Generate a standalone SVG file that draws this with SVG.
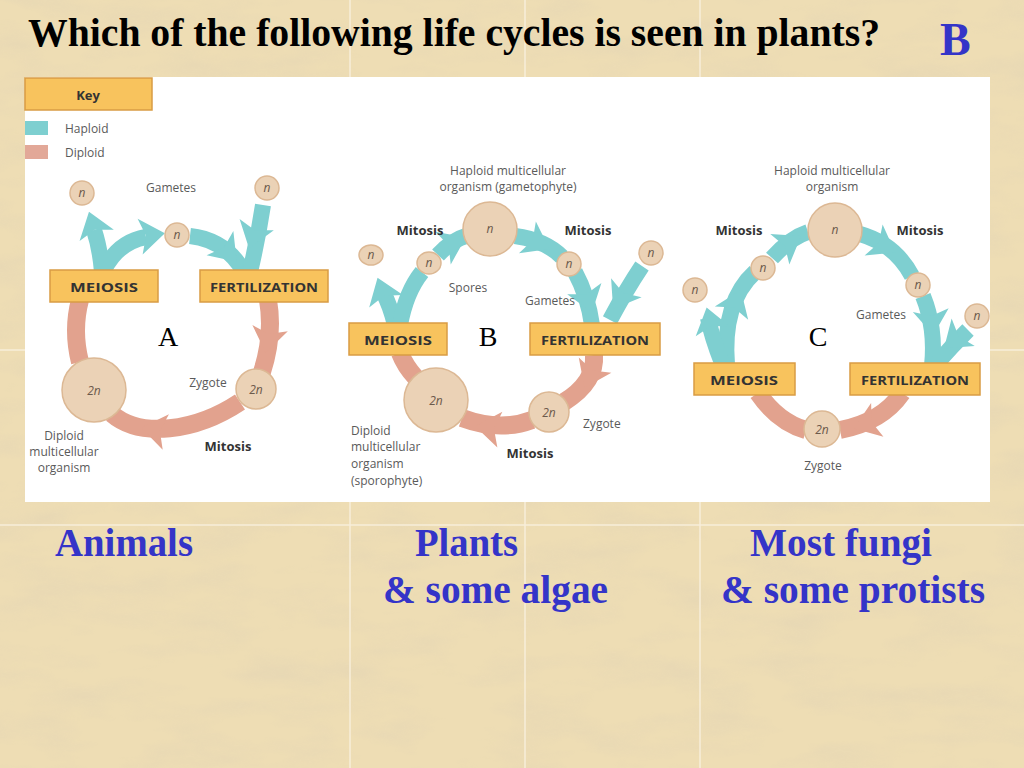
<svg xmlns="http://www.w3.org/2000/svg" xmlns:xlink="http://www.w3.org/1999/xlink" width="1024" height="768" viewBox="0 0 1024 768">
<defs>
<filter id="paper" x="0" y="0" width="100%" height="100%">
<feTurbulence type="fractalNoise" baseFrequency="0.012 0.035" numOctaves="4" seed="7"/>
<feColorMatrix type="matrix" values="0 0 0 0 0.78  0 0 0 0 0.67  0 0 0 0 0.46  0 0 0 1.8 -0.75"/>
</filter>
<path id="headT" d="M-12,-18 L13,0 L-12,18 L-6,0 Z" fill="#7ECFD0"/>
<path id="headP" d="M-12,-18 L13,0 L-12,18 L-6,0 Z" fill="#E2A28E"/>
<style>
.title{font-family:"Liberation Serif","Times New Roman",serif;font-weight:bold;}
.blue{fill:#3434C8;}
.lbl{font-family:"Open Sans","Liberation Sans",sans-serif;font-size:12px;fill:#5a5a5a;}
.bold{font-family:"Open Sans","Liberation Sans",sans-serif;font-size:13px;font-weight:bold;fill:#333;}
.box{fill:#F8C35D;stroke:#D99C44;stroke-width:1.5;}
.cell{fill:#EBD2B6;stroke:#DCB894;stroke-width:1.5;}
.n{font-family:"Open Sans","Liberation Sans",sans-serif;font-style:italic;font-size:12px;fill:#6b5a4c;text-anchor:middle;}
.tb{fill:none;stroke:#7ECFD0;stroke-width:16;}
.pb{fill:none;stroke:#E2A28E;stroke-width:18;}
.hl{fill:none;stroke:#FFFFFF;stroke-width:1;opacity:0.8;}
.abc{font-family:"Liberation Serif","Times New Roman",serif;font-size:28px;fill:#000;text-anchor:middle;}
.mid{text-anchor:middle;}
</style>
</defs>

<g id="background">
<rect x="0" y="0" width="1024" height="768" fill="#EEDDB4"/>
<rect x="0" y="0" width="1024" height="768" filter="url(#paper)" opacity="0.75"/>
<g stroke="#F7EEDA" stroke-width="1.5">
<line x1="350" y1="0" x2="350" y2="768"/>
<line x1="525" y1="0" x2="525" y2="768"/>
<line x1="700" y1="0" x2="700" y2="768"/>
<line x1="0" y1="350" x2="1024" y2="350"/>
<line x1="0" y1="525" x2="1024" y2="525"/>
</g>
<rect x="25" y="77" width="965" height="425" fill="#FFFFFF"/>
</g>

<g id="title">
<text class="title" x="28" y="46" font-size="40" textLength="852" lengthAdjust="spacingAndGlyphs" fill="#000">Which of the following life cycles is seen in plants?</text>
<text class="title blue" x="940" y="55" font-size="46">B</text>
</g>

<g id="key">
<rect class="box" x="25" y="78" width="127" height="32"/>
<text class="bold mid" x="88" y="100" font-size="15">Key</text>
<rect x="25" y="121" width="23" height="14" fill="#7ECFD0"/>
<text class="lbl" x="65" y="133" font-size="13">Haploid</text>
<rect x="25" y="145" width="23" height="14" fill="#E2A898"/>
<text class="lbl" x="65" y="157" font-size="13">Diploid</text>
</g>

<g id="connectors">
<!-- Diagram A -->
<path class="tb" d="M102 272 Q100 248 94 230"/>
<use xlink:href="#headT" transform="translate(93,224) rotate(-108)"/>
<path class="tb" d="M104 270 Q118 242 146 237"/>
<use xlink:href="#headT" transform="translate(152,235) rotate(-8)"/>
<path class="tb" d="M190 236 Q226 240 244 272"/>
<use xlink:href="#headT" transform="translate(228,252) rotate(48)"/>
<path class="tb" d="M263 205 Q258 238 250 272"/>
<use xlink:href="#headT" transform="translate(253,236) rotate(108)"/>
<path class="pb" d="M80 300 Q72 330 80 362"/>
<path class="pb" d="M112 414 C140 438 195 432 240 402"/>
<use xlink:href="#headP" transform="translate(154,430) rotate(190)"/>
<path class="pb" d="M268 300 Q274 335 262 372"/>
<use xlink:href="#headP" transform="translate(268,340) rotate(100)"/>
<!-- Diagram B -->
<path class="tb" d="M395 325 Q390 305 383 292"/>
<use xlink:href="#headT" transform="translate(382,290) rotate(-110)"/>
<path class="tb" d="M400 325 Q406 292 422 272"/>
<path class="tb" d="M438 255 Q452 240 466 236"/>
<use xlink:href="#headT" transform="translate(454,243) rotate(-25)"/>
<path class="tb" d="M515 236 Q545 240 562 257"/>
<use xlink:href="#headT" transform="translate(538,243) rotate(28)"/>
<path class="tb" d="M575 272 Q588 296 592 325"/>
<use xlink:href="#headT" transform="translate(588,300) rotate(72)"/>
<path class="tb" d="M642 266 Q626 290 610 320"/>
<use xlink:href="#headT" transform="translate(620,298) rotate(122)"/>
<path class="pb" d="M400 353 Q405 366 416 378"/>
<path class="pb" d="M532 420 Q500 432 462 418"/>
<use xlink:href="#headP" transform="translate(488,428) rotate(188)"/>
<path class="pb" d="M594 355 Q596 382 564 402"/>
<use xlink:href="#headP" transform="translate(590,376) rotate(115)"/>
<!-- Diagram C -->
<path class="tb" d="M727 365 Q722 302 755 272"/>
<use xlink:href="#headT" transform="translate(736,302) rotate(-68)"/>
<path class="tb" d="M722 363 Q712 338 708 318"/>
<use xlink:href="#headT" transform="translate(710,320) rotate(-105)"/>
<path class="tb" d="M772 258 Q790 238 808 232"/>
<use xlink:href="#headT" transform="translate(790,243) rotate(-32)"/>
<path class="tb" d="M860 234 Q895 244 912 276"/>
<use xlink:href="#headT" transform="translate(884,246) rotate(30)"/>
<path class="tb" d="M923 296 Q936 328 932 366"/>
<use xlink:href="#headT" transform="translate(932,322) rotate(84)"/>
<path class="tb" d="M968 330 Q952 346 938 362"/>
<use xlink:href="#headT" transform="translate(954,340) rotate(140)"/>
<path class="pb" d="M758 393 Q778 422 806 430"/>
<path class="pb" d="M902 393 Q882 422 840 430"/>
<use xlink:href="#headP" transform="translate(866,424) rotate(160)"/>
</g>

<g id="diagram-A">
<g id="a-gamete-1"><circle class="cell" cx="82" cy="193" r="12"/><text class="n" x="82" y="197">n</text></g>
<g id="a-gamete-2"><circle class="cell" cx="267" cy="188" r="12"/><text class="n" x="267" y="192">n</text></g>
<g id="a-gamete-3"><circle class="cell" cx="177" cy="235" r="12"/><text class="n" x="177" y="239">n</text></g>
<text class="lbl mid" x="171" y="192">Gametes</text>
<g id="a-meiosis"><rect class="box" x="50" y="270" width="108" height="32"/><text class="bold mid" x="104" y="292" textLength="68" lengthAdjust="spacingAndGlyphs">MEIOSIS</text></g>
<g id="a-fertilization"><rect class="box" x="200" y="270" width="128" height="32"/><text class="bold mid" x="264" y="292" textLength="108" lengthAdjust="spacingAndGlyphs">FERTILIZATION</text></g>
<g id="a-diploid"><circle class="cell" cx="94" cy="390" r="32"/><text class="n" x="94" y="395" font-size="13">2n</text></g>
<g id="a-zygote"><circle class="cell" cx="256" cy="389" r="20"/><text class="n" x="256" y="394" font-size="13">2n</text></g>
<text class="lbl mid" x="208" y="387">Zygote</text>
<text class="lbl mid" x="64" y="440">Diploid</text>
<text class="lbl mid" x="64" y="456">multicellular</text>
<text class="lbl mid" x="64" y="472">organism</text>
<text class="bold mid" x="228" y="451">Mitosis</text>
<text class="abc" x="168" y="346">A</text>
</g>

<g id="diagram-B">
<text class="lbl mid" x="508" y="175">Haploid multicellular</text>
<text class="lbl mid" x="508" y="191">organism (gametophyte)</text>
<g id="b-gametophyte"><circle class="cell" cx="490" cy="229" r="27"/><text class="n" x="490" y="233">n</text></g>
<text class="bold mid" x="420" y="235">Mitosis</text>
<text class="bold mid" x="588" y="235">Mitosis</text>
<g id="b-spore-1"><ellipse class="cell" cx="371" cy="255" rx="12" ry="10"/><text class="n" x="371" y="259">n</text></g>
<g id="b-spore-2"><ellipse class="cell" cx="429" cy="263" rx="12" ry="11"/><text class="n" x="429" y="267">n</text></g>
<g id="b-gamete-1"><circle class="cell" cx="569" cy="264" r="12"/><text class="n" x="569" y="268">n</text></g>
<g id="b-gamete-2"><circle class="cell" cx="651" cy="253" r="12"/><text class="n" x="651" y="257">n</text></g>
<text class="lbl mid" x="468" y="292">Spores</text>
<text class="lbl mid" x="550" y="305">Gametes</text>
<g id="b-meiosis"><rect class="box" x="349" y="323" width="98" height="32"/><text class="bold mid" x="398" y="345" textLength="68" lengthAdjust="spacingAndGlyphs">MEIOSIS</text></g>
<g id="b-fertilization"><rect class="box" x="530" y="323" width="130" height="32"/><text class="bold mid" x="595" y="345" textLength="108" lengthAdjust="spacingAndGlyphs">FERTILIZATION</text></g>
<g id="b-sporophyte"><circle class="cell" cx="436" cy="400" r="32"/><text class="n" x="436" y="405" font-size="13">2n</text></g>
<g id="b-zygote"><circle class="cell" cx="549" cy="412" r="20"/><text class="n" x="549" y="417" font-size="13">2n</text></g>
<text class="lbl" x="583" y="428">Zygote</text>
<text class="lbl" x="351" y="435">Diploid</text>
<text class="lbl" x="351" y="451">multicellular</text>
<text class="lbl" x="351" y="468">organism</text>
<text class="lbl" x="351" y="485">(sporophyte)</text>
<text class="bold mid" x="530" y="458">Mitosis</text>
<text class="abc" x="488" y="346">B</text>
</g>

<g id="diagram-C">
<text class="lbl mid" x="832" y="175">Haploid multicellular</text>
<text class="lbl mid" x="832" y="191">organism</text>
<g id="c-organism"><circle class="cell" cx="835" cy="230" r="27"/><text class="n" x="835" y="234">n</text></g>
<text class="bold mid" x="739" y="235">Mitosis</text>
<text class="bold mid" x="920" y="235">Mitosis</text>
<g id="c-spore-1"><circle class="cell" cx="763" cy="268" r="12"/><text class="n" x="763" y="272">n</text></g>
<g id="c-spore-2"><circle class="cell" cx="695" cy="290" r="12"/><text class="n" x="695" y="294">n</text></g>
<g id="c-gamete-1"><circle class="cell" cx="918" cy="285" r="12"/><text class="n" x="918" y="289">n</text></g>
<g id="c-gamete-2"><circle class="cell" cx="977" cy="316" r="12"/><text class="n" x="977" y="320">n</text></g>
<text class="lbl mid" x="881" y="319">Gametes</text>
<g id="c-meiosis"><rect class="box" x="694" y="363" width="101" height="32"/><text class="bold mid" x="744" y="385" textLength="68" lengthAdjust="spacingAndGlyphs">MEIOSIS</text></g>
<g id="c-fertilization"><rect class="box" x="850" y="363" width="130" height="32"/><text class="bold mid" x="915" y="385" textLength="108" lengthAdjust="spacingAndGlyphs">FERTILIZATION</text></g>
<g id="c-zygote"><circle class="cell" cx="822" cy="429" r="18"/><text class="n" x="822" y="434" font-size="13">2n</text></g>
<text class="lbl mid" x="823" y="470">Zygote</text>
<text class="abc" x="818" y="346">C</text>
</g>

<g id="answers">
<text class="title blue" x="55" y="556" font-size="40" textLength="138" lengthAdjust="spacingAndGlyphs">Animals</text>
<text class="title blue" x="415" y="556" font-size="40" textLength="103" lengthAdjust="spacingAndGlyphs">Plants</text>
<text class="title blue" x="383" y="603" font-size="40" textLength="225" lengthAdjust="spacingAndGlyphs">&amp; some algae</text>
<text class="title blue" x="750" y="556" font-size="40" textLength="182" lengthAdjust="spacingAndGlyphs">Most fungi</text>
<text class="title blue" x="721" y="603" font-size="40" textLength="264" lengthAdjust="spacingAndGlyphs">&amp; some protists</text>
</g>
</svg>
